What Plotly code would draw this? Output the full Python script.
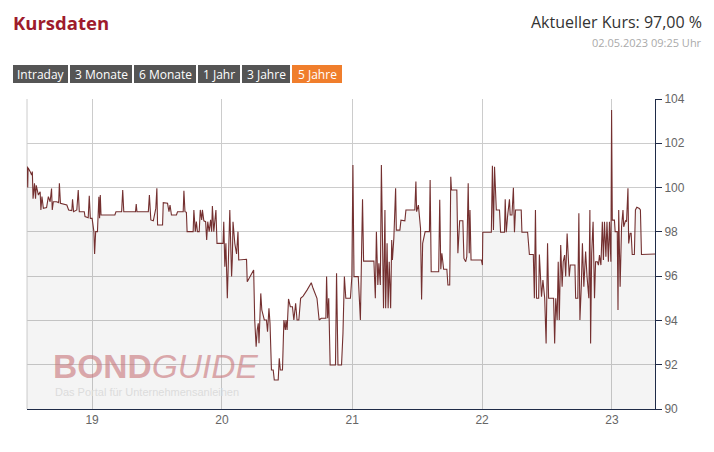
import plotly.graph_objects as go

# ---- data ----
dates = [
    "2018-07-03", "2018-07-04", "2018-07-05", "2018-07-11", "2018-07-15", "2018-07-17", "2018-07-19",
    "2018-07-23", "2018-07-26", "2018-07-28", "2018-08-03", "2018-08-08", "2018-08-10", "2018-08-13",
    "2018-08-17", "2018-08-26", "2018-08-31", "2018-09-05", "2018-09-09", "2018-09-11", "2018-09-14",
    "2018-09-23", "2018-09-29", "2018-10-01", "2018-10-04", "2018-10-22", "2018-10-27", "2018-11-05",
    "2018-11-07", "2018-11-10", "2018-11-19", "2018-11-23", "2018-11-26", "2018-12-10", "2018-12-12",
    "2018-12-21", "2018-12-24", "2018-12-27", "2019-01-01", "2019-01-06", "2019-01-08", "2019-01-11",
    "2019-01-16", "2019-01-20", "2019-01-22", "2019-01-24", "2019-01-26", "2019-03-06", "2019-03-09",
    "2019-03-25", "2019-03-28", "2019-03-31", "2019-05-03", "2019-05-05", "2019-05-07", "2019-06-08",
    "2019-06-11", "2019-06-15", "2019-06-22", "2019-06-29", "2019-07-02", "2019-07-04", "2019-07-18",
    "2019-07-20", "2019-08-01", "2019-08-05", "2019-08-08", "2019-08-12", "2019-08-26", "2019-08-29",
    "2019-09-14", "2019-09-16", "2019-09-19", "2019-09-23", "2019-09-25", "2019-10-12", "2019-10-14",
    "2019-10-18", "2019-10-21", "2019-10-24", "2019-10-29", "2019-11-01", "2019-11-05", "2019-11-07",
    "2019-11-11", "2019-11-16", "2019-11-19", "2019-11-22", "2019-11-26", "2019-11-30", "2019-12-03",
    "2019-12-05", "2019-12-09", "2019-12-15", "2019-12-18", "2020-01-04", "2020-01-06", "2020-01-09",
    "2020-01-12", "2020-01-16", "2020-01-18", "2020-01-23", "2020-01-28", "2020-01-30", "2020-02-01",
    "2020-02-06", "2020-02-11", "2020-02-15", "2020-02-17", "2020-03-10", "2020-03-12", "2020-03-19",
    "2020-03-30", "2020-04-02", "2020-04-06", "2020-04-09", "2020-04-12", "2020-04-14", "2020-04-19",
    "2020-04-22", "2020-04-25", "2020-04-29", "2020-05-05", "2020-05-08", "2020-05-12", "2020-05-15",
    "2020-05-19", "2020-05-24", "2020-05-27", "2020-06-07", "2020-06-10", "2020-06-13", "2020-06-19",
    "2020-06-23", "2020-06-27", "2020-06-29", "2020-07-02", "2020-07-06", "2020-07-11", "2020-07-17",
    "2020-07-21", "2020-07-26", "2020-07-30", "2020-08-04", "2020-08-09", "2020-08-16", "2020-08-27",
    "2020-09-08", "2020-09-13", "2020-09-24", "2020-09-30", "2020-10-06", "2020-10-19", "2020-10-21",
    "2020-10-24", "2020-10-27", "2020-10-31", "2020-11-15", "2020-11-18", "2020-11-22", "2020-12-02",
    "2020-12-06", "2020-12-10", "2020-12-14", "2020-12-27", "2020-12-31", "2021-01-03", "2021-01-06",
    "2021-01-18", "2021-01-24", "2021-01-30", "2021-02-02", "2021-03-03", "2021-03-07", "2021-03-10",
    "2021-03-14", "2021-03-17", "2021-03-21", "2021-03-24", "2021-03-27", "2021-03-30", "2021-04-03",
    "2021-04-05", "2021-04-09", "2021-04-12", "2021-04-15", "2021-04-19", "2021-04-22", "2021-04-24",
    "2021-04-28", "2021-05-03", "2021-05-05", "2021-05-15", "2021-05-18", "2021-05-29", "2021-06-01",
    "2021-06-26", "2021-06-29", "2021-07-01", "2021-07-06", "2021-07-09", "2021-07-12", "2021-07-15",
    "2021-07-18", "2021-07-25", "2021-08-06", "2021-08-08", "2021-08-11", "2021-09-01", "2021-09-04",
    "2021-09-07", "2021-09-10", "2021-09-15", "2021-09-24", "2021-09-27", "2021-10-02", "2021-10-05",
    "2021-10-07", "2021-10-22", "2021-10-25", "2021-10-30", "2021-11-08", "2021-11-11", "2021-11-16",
    "2021-11-19", "2021-11-23", "2021-11-26", "2021-11-28", "2021-12-01", "2021-12-30", "2022-01-02",
    "2022-01-03", "2022-01-27", "2022-01-30", "2022-02-02", "2022-02-05", "2022-02-10", "2022-02-19",
    "2022-02-22", "2022-03-05", "2022-03-07", "2022-03-10", "2022-03-14", "2022-03-19", "2022-03-21",
    "2022-03-26", "2022-03-30", "2022-04-02", "2022-04-05", "2022-04-21", "2022-04-23", "2022-05-09",
    "2022-05-14", "2022-05-25", "2022-05-28", "2022-05-31", "2022-06-03", "2022-06-09", "2022-06-11",
    "2022-06-14", "2022-06-17", "2022-06-21", "2022-06-26", "2022-06-30", "2022-07-04", "2022-07-07",
    "2022-07-21", "2022-07-24", "2022-07-27", "2022-07-31", "2022-08-03", "2022-08-06", "2022-08-10",
    "2022-08-14", "2022-08-17", "2022-08-21", "2022-08-24", "2022-08-28", "2022-09-03", "2022-09-06",
    "2022-09-19", "2022-09-21", "2022-09-27", "2022-09-30", "2022-10-03", "2022-10-07", "2022-10-10",
    "2022-10-14", "2022-10-19", "2022-10-23", "2022-10-28", "2022-10-31", "2022-11-02", "2022-11-05",
    "2022-11-09", "2022-11-13", "2022-11-16", "2022-11-21", "2022-11-24", "2022-11-27", "2022-12-01",
    "2022-12-05", "2022-12-08", "2022-12-11", "2022-12-15", "2022-12-18", "2022-12-22", "2022-12-25",
    "2022-12-29", "2022-12-31", "2023-01-02", "2023-01-08", "2023-01-10", "2023-01-16", "2023-01-18",
    "2023-01-20", "2023-01-24", "2023-01-28", "2023-02-01", "2023-02-03", "2023-02-08", "2023-02-11",
    "2023-02-15", "2023-02-17", "2023-02-21", "2023-02-24", "2023-02-27", "2023-03-05", "2023-03-08",
    "2023-03-12", "2023-03-19", "2023-03-22", "2023-03-25", "2023-05-02",
]
prices = [
    100.95, 100.0, 100.9, 100.72, 100.57, 100.72, 99.5,
    100.19, 99.5, 100.1, 99.66, 99.81, 98.99, 99.59,
    99.06, 99.1, 99.59, 99.36, 99.96, 98.99, 99.36,
    99.36, 99.32, 100.19, 99.29, 99.21, 98.99, 98.96,
    99.47, 98.91, 98.99, 99.89, 98.91, 98.91, 98.69,
    98.64, 99.63, 98.61, 98.61, 98.01, 97.0, 98.01,
    98.01, 99.59, 98.61, 99.66, 98.76, 98.76, 98.91,
    98.91, 99.89, 98.91, 98.91, 99.26, 98.91, 98.91,
    99.66, 98.54, 98.5, 99.06, 99.97, 98.31, 98.31,
    99.32, 99.29, 98.91, 99.21, 98.76, 98.76, 98.91,
    98.91, 99.86, 98.91, 98.88, 98.01, 98.01, 98.99,
    98.01, 98.46, 98.01, 98.01, 98.99, 98.54, 98.99,
    98.5, 98.46, 97.63, 98.46, 98.01, 98.54, 98.01,
    99.17, 98.01, 98.99, 97.48, 97.48, 98.46, 96.43,
    97.48, 95.0, 95.98, 98.99, 95.98, 96.73, 98.46,
    97.48, 97.0, 98.01, 96.73, 96.76, 95.75, 95.98,
    96.28, 94.02, 92.81, 93.57, 93.87, 92.97, 95.22,
    94.47, 94.32, 94.02, 94.02, 93.49, 94.55, 93.87,
    91.76, 91.76, 91.31, 91.31, 92.29, 91.76, 91.76,
    94.02, 93.57, 94.02, 93.57, 94.97, 94.62, 94.62,
    94.02, 94.77, 94.02, 94.02, 95.0, 95.1, 95.37,
    95.7, 95.45, 95.0, 94.02, 94.1, 94.1, 95.98,
    94.1, 95.0, 91.99, 91.99, 96.13, 91.99, 91.99,
    93.42, 95.98, 95.0, 95.0, 95.98, 101.02, 95.98,
    95.98, 94.02, 99.47, 96.68, 96.68, 95.0, 98.01,
    95.6, 96.58, 95.6, 101.02, 98.53, 94.55, 98.99,
    94.55, 97.48, 94.55, 96.65, 94.55, 97.63, 96.73,
    97.71, 99.97, 98.08, 98.08, 98.53, 98.5, 98.99,
    98.99, 100.27, 98.91, 99.21, 98.53, 98.16, 94.95,
    97.48, 98.01, 98.01, 100.34, 96.2, 96.2, 99.45,
    96.31, 97.03, 96.31, 96.31, 95.6, 95.6, 100.49,
    99.89, 99.89, 97.03, 98.5, 98.5, 96.8, 96.65,
    96.88, 100.19, 97.03, 98.99, 96.73, 96.73, 96.5,
    97.98, 97.98, 100.99, 98.08, 100.94, 98.99, 98.99,
    97.98, 97.98, 99.47, 97.98, 98.76, 99.47, 98.76,
    98.76, 99.99, 97.98, 98.99, 98.99, 97.98, 97.98,
    96.98, 96.98, 95.0, 98.99, 95.0, 95.0, 96.98,
    95.98, 95.07, 95.82, 95.0, 92.96, 97.48, 95.0,
    95.0, 92.96, 95.0, 94.02, 96.65, 94.02, 97.41,
    95.52, 96.65, 96.95, 95.98, 97.93, 95.98, 96.5,
    96.5, 95.0, 95.0, 98.84, 94.02, 95.6, 97.48,
    95.52, 97.11, 95.98, 95.0, 98.99, 92.96, 97.03,
    98.46, 95.0, 96.65, 96.65, 96.5, 96.95, 96.5,
    98.46, 96.73, 98.46, 96.88, 98.46, 96.65, 98.46,
    96.65, 103.5, 98.53, 98.53, 98.01, 98.01, 94.47,
    98.99, 95.52, 98.23, 98.99, 98.23, 98.5, 98.46,
    99.97, 97.48, 97.93, 97.93, 96.98, 96.98, 98.99,
    99.11, 99.06, 98.99, 96.98, 97.0,
]

y_ticks = [90, 92, 94, 96, 98, 100, 102, 104]
range_buttons = ["Intraday", "3 Monate", "6 Monate", "1 Jahr", "3 Jahre", "5 Jahre"]
active_button = "5 Jahre"

title_text = "Kursdaten"
price_text = "Aktueller Kurs: 97,00 %"
stamp_text = "02.05.2023 09:25 Uhr"

# ---- layout geometry (pixels) ----
W, H = 714, 452
PL, PR, PT, PB = 27, 655, 99, 409


def px(x):
    return (x - PL) / (PR - PL)


def py(y):
    return (PB - y) / (PB - PT)


fig = go.Figure()
fig.add_trace(go.Scatter(
    x=dates, y=prices, mode="lines",
    line=dict(color="#743030", width=1.1),
    fill="tozeroy", fillcolor="rgba(0,0,0,0.045)",
    hoverinfo="x+y", showlegend=False,
))

shapes = []
annotations = []

# left border of plot
shapes.append(dict(type="line", xref="paper", yref="paper", x0=0, x1=0, y0=0, y1=1,
                   line=dict(color="#cccccc", width=1), layer="below"))

# range buttons
btn_edges = [(13, 68), (70, 132), (134, 196), (198, 240), (242, 290), (292, 342)]
for label, (x0, x1) in zip(range_buttons, btn_edges):
    color = "#f07e2c" if label == active_button else "#555555"
    shapes.append(dict(type="rect", xref="paper", yref="paper",
                       x0=px(x0), x1=px(x1), y0=py(83), y1=py(65),
                       fillcolor=color, line=dict(width=0)))
    annotations.append(dict(text=label, xref="paper", yref="paper",
                            x=px((x0 + x1) / 2), y=py(74), xanchor="center", yanchor="middle",
                            showarrow=False, borderpad=0,
                            font=dict(family="Open Sans", size=12, color="white")))

annotations += [
    dict(text="<b>" + title_text + "</b>", xref="paper", yref="paper", x=px(12), y=py(22),
         xanchor="left", yanchor="middle", showarrow=False, borderpad=0,
         font=dict(family="Open Sans", size=18.5, color="#9e1b2c")),
    dict(text=price_text, xref="paper", yref="paper", x=px(703), y=py(22),
         xanchor="right", yanchor="middle", showarrow=False, borderpad=0,
         font=dict(family="Open Sans", size=16, color="#333333")),
    dict(text=stamp_text, xref="paper", yref="paper", x=px(703), y=py(43),
         xanchor="right", yanchor="middle", showarrow=False, borderpad=0,
         font=dict(family="Open Sans", size=11, color="#aaaaaa")),
    # watermark
    dict(text="<b>BOND</b><i>GUIDE</i>", xref="paper", yref="paper", x=px(52), y=py(366),
         xanchor="left", yanchor="middle", showarrow=False, borderpad=0,
         font=dict(family="Liberation Sans", size=33.5, color="rgba(200,115,120,0.6)")),
    dict(text="Das Portal für Unternehmensanleihen", xref="paper", yref="paper", x=px(54), y=py(391.5),
         xanchor="left", yanchor="middle", showarrow=False, borderpad=0,
         font=dict(family="Liberation Sans", size=11, color="#dcdcdc")),
]

fig.update_layout(
    width=W, height=H,
    margin=dict(l=PL, r=W - PR, t=PT, b=H - PB),
    paper_bgcolor="white", plot_bgcolor="white",
    shapes=shapes, annotations=annotations,
    xaxis=dict(
        type="date", range=["2018-07-02", "2023-05-02"],
        tick0="2019-01-01", dtick="M12", tickformat="%y",
        showgrid=True, gridcolor="#cccccc", gridwidth=1,
        showline=True, linecolor="#1f2b47", linewidth=1,
        ticks="", tickfont=dict(family="Liberation Sans", size=12, color="#666666"),
        zeroline=False,
    ),
    yaxis=dict(
        side="right", range=[90, 104], tickvals=y_ticks,
        showgrid=True, gridcolor="#cccccc", gridwidth=1,
        showline=True, linecolor="#1f2b47", linewidth=1,
        ticks="outside", ticklen=6, tickcolor="#1f2b47",
        tickfont=dict(family="Liberation Sans", size=12, color="#666666"),
        zeroline=False,
    ),
)

fig.write_html(
    "out.html",
    config={"displayModeBar": False},
    post_script="document.body.style.margin='0px';document.body.style.overflow='hidden';",
)
